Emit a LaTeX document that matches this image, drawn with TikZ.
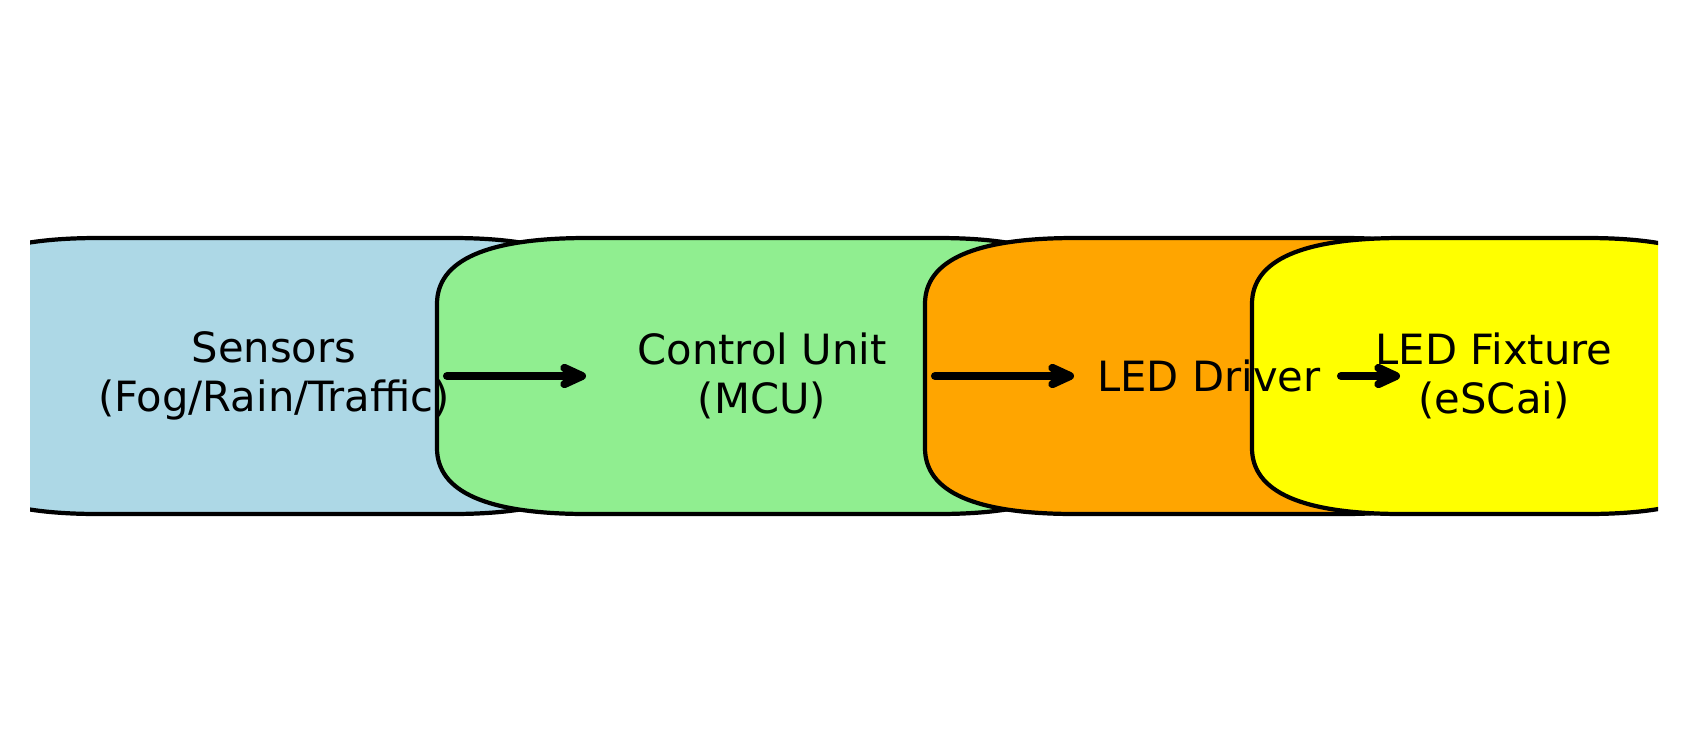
\documentclass[tikz,border=0pt]{standalone}
\usepackage{fontspec}
\setmainfont{DejaVu Sans}
\usetikzlibrary{arrows.meta,positioning}
\definecolor{sensorBlue}{RGB}{173,216,230}
\definecolor{mcuGreen}{RGB}{144,238,144}
\definecolor{driverOrange}{RGB}{255,165,0}
\definecolor{fixtureYellow}{RGB}{255,255,0}
% #1 colour, #2 left edge, #3 right edge
\newcommand{\roundbox}[3]{\draw[boxline,fill=#1] (#2+150,239) -- (#3-150,239) .. controls (#3-50,239) and (#3,261) .. (#3,305) -- (#3,449) .. controls (#3,493) and (#3-50,515) .. (#3-150,515) -- (#2+150,515) .. controls (#2+50,515) and (#2,493) .. (#2,449) -- (#2,305) .. controls (#2,261) and (#2+50,239) .. cycle;}
\tikzset{
  boxline/.style={draw=black,line width=1.2pt,line join=round},
  boxtext/.style={font=\fontsize{11.85}{13.9}\selectfont,align=center,inner sep=0pt},
  flowarrow/.style={line width=2.3pt,line cap=round,-{Straight Barb[length=5pt,width=4.6pt,round]}}
}

\begin{document}
\begin{tikzpicture}[x=0.01cm,y=0.01cm]
		\useasboundingbox (0,0) rectangle (1687,753);
		\begin{scope}
			\clip (30,0) rectangle (1658,753);
			\roundbox{sensorBlue}{-52}{602} \roundbox{mcuGreen}{437}{1088}
			\roundbox{driverOrange}{925}{1493} \roundbox{fixtureYellow}{1252}{1737}
		\end{scope}
		\node[boxtext] (sensors) at (274,377) {Sensors\\(Fog/Rain/Traffic)};
		\node[boxtext] (mcu) at (762,377) {Control Unit\\(MCU)};
		\node[boxtext] (driver) at (1209,377) {LED Driver};
		\node[boxtext] (fixture) at (1494,377) {LED Fixture\\(eSCai)};
		\coordinate (s2m a) at (447,377); \coordinate (s2m b) at (586,377);
		\coordinate (m2d a) at (935,377); \coordinate (m2d b) at (1074,377);
		\coordinate (d2f a) at (1341,377); \coordinate (d2f b) at (1400,377);
		\draw[flowarrow] (s2m a) -- (s2m b);
		\draw[flowarrow] (m2d a) -- (m2d b);
		\draw[flowarrow] (d2f a) -- (d2f b);
\end{tikzpicture}
\end{document}
